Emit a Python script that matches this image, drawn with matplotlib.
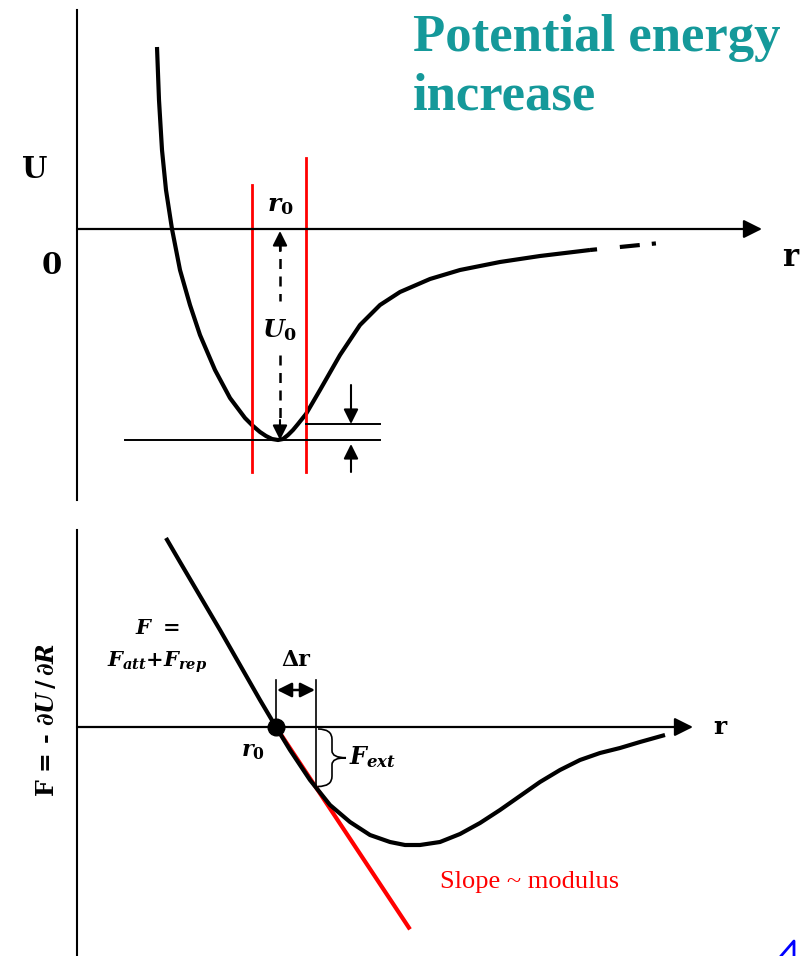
import numpy as np
import matplotlib
matplotlib.use("Agg")
import matplotlib.pyplot as plt
from matplotlib.path import Path
from matplotlib.patches import PathPatch

plt.rcParams['mathtext.fontset'] = 'custom'
plt.rcParams['mathtext.it'] = 'DejaVu Serif:italic:bold'
plt.rcParams['mathtext.rm'] = 'DejaVu Serif:bold'
plt.rcParams['mathtext.bf'] = 'DejaVu Serif:bold'

# ---------------- data ----------------
# Potential energy curve U(r) (diagram units)
u_r = [0.80, 0.82, 0.85, 0.89, 0.95, 1.03, 1.13, 1.23, 1.38, 1.53, 1.68, 1.76, 1.83, 1.89, 1.95,
       2.01, 2.06, 2.11, 2.16, 2.21, 2.29, 2.43, 2.63, 2.83, 3.03, 3.23, 3.53, 3.83, 4.23, 4.63, 5.13]
u_val = [1.82, 1.29, 0.79, 0.39, 0.00, -0.41, -0.76, -1.06, -1.41, -1.69, -1.89, -1.97, -2.03, -2.07, -2.10,
         -2.11, -2.10, -2.06, -2.01, -1.95, -1.85, -1.61, -1.26, -0.96, -0.76, -0.63, -0.50, -0.41, -0.33, -0.27, -0.21]
u_tail_r = [5.13, 5.83]
u_tail_val = [-0.21, -0.14]

r0_top = 2.03
U0 = -2.11
red_lines_r = [1.75, 2.29]
red_lines_top = [0.44, 0.71]
red_lines_bottom = -2.43
small_level = -1.95

# Force curve F(r)
f_r = [0.89, 1.03, 1.23, 1.43, 1.63, 1.83, 1.99, 2.13, 2.33, 2.53, 2.73, 2.93, 3.13, 3.28,
       3.43, 3.63, 3.83, 4.03, 4.23, 4.43, 4.63, 4.83, 5.03, 5.23, 5.43, 5.63, 5.88]
f_val = [1.89, 1.65, 1.31, 0.97, 0.62, 0.27, 0.00, -0.23, -0.53, -0.78, -0.95, -1.08, -1.15, -1.18,
         -1.18, -1.15, -1.07, -0.96, -0.83, -0.69, -0.55, -0.43, -0.33, -0.26, -0.21, -0.15, -0.08]
r0_bot = 1.99
slope_modulus = -1.51
tangent_end_r = 3.33
delta_r = 0.40

TEAL = '#15999a'
RED = '#ff0000'

fig = plt.figure(figsize=(8.10, 9.56), dpi=100)

# ---------------- top panel ----------------
ax1 = fig.add_axes([0, 1 - 510 / 956, 1, 510 / 956])
ax1.set_xlim(-0.77, 7.33)
ax1.set_ylim(-2.81, 2.29)
ax1.axis('off')

ax1.plot([0, 0], [2.19, -2.71], color='k', lw=1.5)
ax1.annotate('', xy=(6.85, 0), xytext=(0, 0),
             arrowprops=dict(arrowstyle='-|>', color='k', lw=1.6, mutation_scale=28, shrinkA=0, shrinkB=0))
ax1.plot(u_r, u_val, color='k', lw=3.0, solid_capstyle='butt', solid_joinstyle='round')
ax1.plot(u_tail_r, u_tail_val, color='k', lw=3.0, linestyle=(0, (1.7, 5.5, 4.8, 2.9, 1.0, 30)))

for xr, yt in zip(red_lines_r, red_lines_top):
    ax1.plot([xr, xr], [yt, red_lines_bottom], color=RED, lw=2.0)

ax1.plot([0.48, 3.03], [U0, U0], color='k', lw=1.4)
ax1.plot([red_lines_r[1], 3.03], [small_level, small_level], color='k', lw=1.4)

# dashed U0 arrow
ax1.plot([r0_top, r0_top], [-0.12, -0.72], color='k', lw=1.8, linestyle=(0, (4, 3)))
ax1.plot([r0_top, r0_top], [-1.26, -2.0], color='k', lw=1.8, linestyle=(0, (4, 3)))
hp = dict(arrowstyle='-|>', color='k', lw=1.5, mutation_scale=22, shrinkA=0, shrinkB=0)
ax1.annotate('', xy=(r0_top, -0.02), xytext=(r0_top, -0.22), arrowprops=hp)
ax1.annotate('', xy=(r0_top, U0), xytext=(r0_top, U0 + 0.2), arrowprops=hp)

# small arrows on the right
ax1.annotate('', xy=(2.74, small_level), xytext=(2.74, -1.56), arrowprops=hp)
ax1.annotate('', xy=(2.74, -2.15), xytext=(2.74, -2.43), arrowprops=hp)

ax1.text(-0.42, 0.60, 'U', fontsize=21, family='DejaVu Serif', weight='bold', ha='center', va='center')
ax1.text(-0.25, -0.36, '0', fontsize=21, family='DejaVu Serif', weight='bold', ha='center', va='center')
ax1.text(7.13, -0.28, 'r', fontsize=22, family='DejaVu Serif', weight='bold', ha='center', va='center')
ax1.text(r0_top, 0.24, r'$r_0$', fontsize=18, ha='center', va='center')
ax1.text(r0_top, -1.01, r'$U_0$', fontsize=18, ha='center', va='center')

ax1.text(3.36, 1.78, 'Potential energy', fontsize=38, color=TEAL, family='Liberation Serif',
         weight='bold', ha='left', va='baseline')
ax1.text(3.36, 1.19, 'increase', fontsize=38, color=TEAL, family='Liberation Serif',
         weight='bold', ha='left', va='baseline')

# ---------------- bottom panel ----------------
ax2 = fig.add_axes([0, 0, 1, 446 / 956])
ax2.set_xlim(-0.77, 7.33)
ax2.set_ylim(-2.29, 2.17)
ax2.axis('off')

ax2.plot([0, 0], [1.97, -2.29], color='k', lw=1.5)
ax2.annotate('', xy=(6.16, 0), xytext=(0, 0),
             arrowprops=dict(arrowstyle='-|>', color='k', lw=1.6, mutation_scale=28, shrinkA=0, shrinkB=0))

ax2.plot(f_r, f_val, color='k', lw=3.0, solid_capstyle='butt', solid_joinstyle='round')
ax2.plot([r0_bot, tangent_end_r], [0, slope_modulus * (tangent_end_r - r0_bot)], color=RED, lw=3.0,
         solid_capstyle='butt', zorder=1)
ax2.plot([r0_bot], [0], 'o', color='k', markersize=12, zorder=5)

# delta r
r1 = r0_bot + delta_r
f_at_r1 = float(np.interp(r1, f_r, f_val))
ax2.plot([r0_bot, r0_bot], [0.47, 0], color='k', lw=1.2)
ax2.plot([r1, r1], [0.47, f_at_r1], color='k', lw=1.2)
ax2.annotate('', xy=(r0_bot + 0.01, 0.37), xytext=(r1 - 0.01, 0.37),
             arrowprops=dict(arrowstyle='<|-|>', color='k', lw=1.8, mutation_scale=22, shrinkA=0, shrinkB=0))
ax2.text(r0_bot + delta_r / 2, 0.67, 'Δr', fontsize=16, family='DejaVu Serif', weight='bold',
         ha='center', va='center')

# brace
def brace(ax, x0, ytop, ybot, w):
    ym = (ytop + ybot) / 2
    h = ytop - ybot
    xm = x0 + w * 0.5
    verts = [(x0, ytop), (xm, ytop), (xm, ytop - h * 0.18),
             (xm, ym + h * 0.12), (xm, ym), (x0 + w, ym),
             (xm, ym), (xm, ym - h * 0.12),
             (xm, ybot + h * 0.18), (xm, ybot), (x0, ybot)]
    codes = [Path.MOVETO, Path.CURVE3, Path.CURVE3,
             Path.LINETO, Path.CURVE3, Path.CURVE3,
             Path.CURVE3, Path.CURVE3,
             Path.LINETO, Path.CURVE3, Path.CURVE3]
    ax.add_patch(PathPatch(Path(verts, codes), fill=False, lw=1.2, color='k'))

brace(ax2, r1 + 0.02, -0.02, f_at_r1 + 0.01, 0.28)
ax2.text(r1 + 0.33, -0.30, r'$F_{ext}$', fontsize=17, ha='left', va='center')

ax2.text(1.76, -0.25, r'$r_0$', fontsize=16, ha='center', va='center')
ax2.text(6.43, 0.0, 'r', fontsize=18, family='DejaVu Serif', weight='bold', ha='center', va='center')
ax2.text(0.80, 0.99, r'$F\ \mathrm{=}$', fontsize=15, ha='center', va='center')
ax2.text(0.80, 0.65, r'$F_{att}\mathrm{+}F_{rep}$', fontsize=15, ha='center', va='center')
ax2.text(-0.30, 0.07, r'F = - $\partial U\,/\,\partial R$', fontsize=17, family='DejaVu Serif',
         weight='bold', rotation=90, ha='center', va='center')
ax2.text(3.63, -1.55, 'Slope ~ modulus', fontsize=19, color=RED, family='Liberation Serif',
         ha='left', va='center')

# small blue mark in corner
ax2.plot([7.04, 7.17, 7.17], [-2.29, -2.14, -2.29], color='#0000ff', lw=2.0)

fig.savefig('out.png', dpi=100)
